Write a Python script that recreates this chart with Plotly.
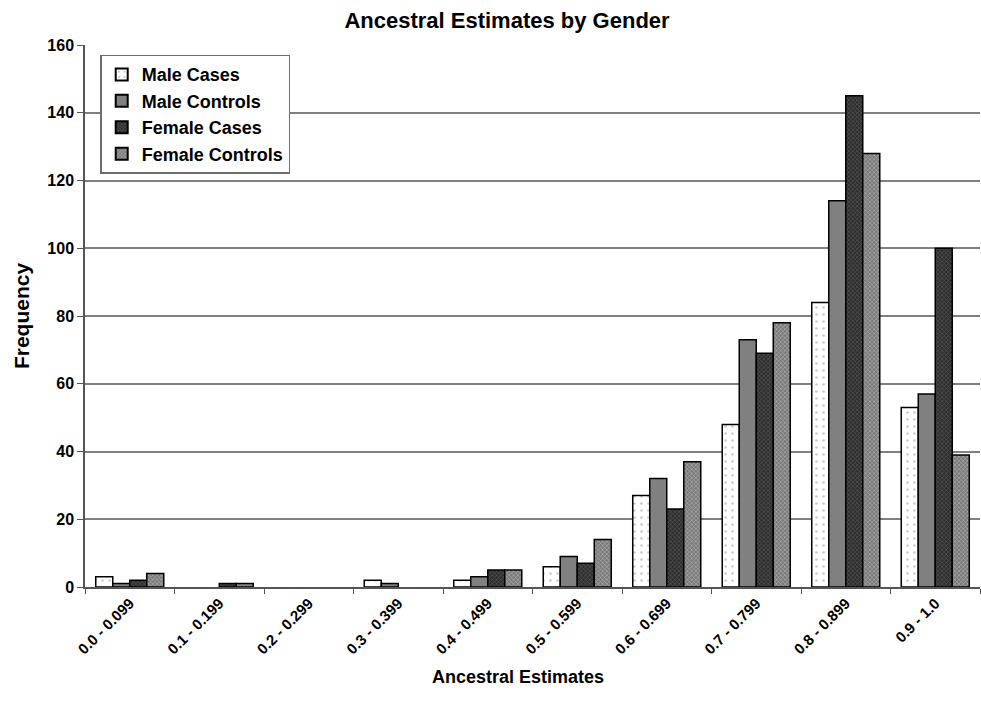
import plotly.graph_objects as go

categories = ["0.0 - 0.099", "0.1 - 0.199", "0.2 - 0.299", "0.3 - 0.399", "0.4 - 0.499",
              "0.5 - 0.599", "0.6 - 0.699", "0.7 - 0.799", "0.8 - 0.899", "0.9 - 1.0"]
male_cases = [3, 0, 0, 2, 2, 6, 27, 48, 84, 53]
male_controls = [1, 0, 0, 1, 3, 9, 32, 73, 114, 57]
female_cases = [2, 1, 0, 0, 5, 7, 23, 69, 145, 100]
female_controls = [4, 1, 0, 0, 5, 14, 37, 78, 128, 39]
y_ticks = [0, 20, 40, 60, 80, 100, 120, 140, 160]

FONT = "Liberation Sans, Arial, sans-serif"

series = [
    ("Male Cases", male_cases, dict(shape=".", bgcolor="#ffffff", fgcolor="#9a9a9a", size=7, solidity=0.12)),
    ("Male Controls", male_controls, dict(shape="", bgcolor="#808080", fgcolor="#808080")),
    ("Female Cases", female_cases, dict(shape="x", bgcolor="#2e2e2e", fgcolor="#8a8a8a", size=3, solidity=0.35)),
    ("Female Controls", female_controls, dict(shape="x", bgcolor="#7a7a7a", fgcolor="#e0e0e0", size=3, solidity=0.4)),
]

fig = go.Figure()
for name, vals, pat in series:
    # empty bins get no outline so nothing is drawn on the baseline
    outline = [1.5 if v > 0 else 0 for v in vals]
    fig.add_trace(go.Bar(
        name=f"<b>{name}</b>",
        x=categories,
        y=vals,
        marker=dict(color=pat["bgcolor"], pattern=pat,
                    line=dict(color="#000000", width=outline)),
    ))

fig.update_layout(
    width=981, height=710,
    margin=dict(l=85, r=1, t=45, b=123),
    paper_bgcolor="white", plot_bgcolor="white",
    barmode="group", bargap=0.24, bargroupgap=0,
    font=dict(family=FONT, color="#000000"),
    title=dict(text="<b>Ancestral Estimates by Gender</b>", x=507 / 981, xref="container",
               xanchor="center", y=1 - 20 / 710, yanchor="middle",
               font=dict(size=22, family=FONT)),
    showlegend=True,
    legend=dict(x=0.017, y=0.982, xanchor="left", yanchor="top",
                bgcolor="white", bordercolor="#6e6e6e", borderwidth=1.5,
                font=dict(size=18, family=FONT), itemsizing="constant"),
    xaxis=dict(
        type="category",
        tickangle=-45,
        tickfont=dict(size=15),
        tickvals=categories,
        ticktext=[f"<b>{c}</b>" for c in categories],
        ticks="outside", ticklen=5, tickcolor="#555555", tickson="boundaries",
        showline=True, linecolor="#555555", linewidth=1.5,
        showgrid=False,
    ),
    yaxis=dict(
        title=dict(text="<b>Frequency</b>", font=dict(size=21), standoff=12),
        range=[0, 160], tickvals=y_ticks,
        ticktext=[f"<b>{v}</b>" for v in y_ticks],
        tickfont=dict(size=16),
        ticks="outside", ticklen=6, tickcolor="#555555",
        showline=True, linecolor="#555555", linewidth=1.5,
        showgrid=True, gridcolor="#808080", gridwidth=1.5,
        zeroline=False,
    ),
    annotations=[dict(
        text="<b>Ancestral Estimates</b>", xref="paper", yref="paper",
        x=(518 - 85) / 895, y=-(677 - 587) / 542, xanchor="center", yanchor="middle",
        showarrow=False, font=dict(size=18, family=FONT),
    )],
)

fig.write_html("out.html")
